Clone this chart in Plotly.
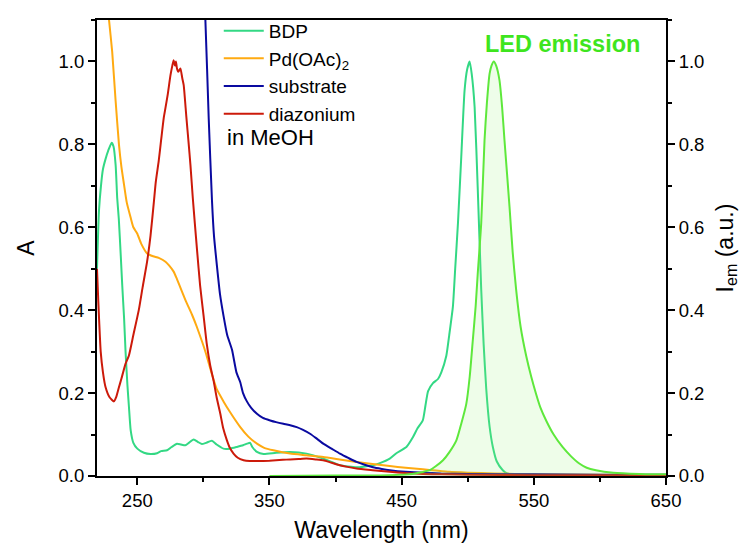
import plotly.graph_objects as go

# ---------------- data ----------------
bdp_wl = [219.5, 221, 222.5, 224, 226, 228, 230.6, 232, 233.6, 234.8, 236, 237.5, 238.6, 240, 241.1,
          242.5, 243.6, 245, 247, 250, 255, 260, 265, 268, 272.5, 276, 280, 283, 286.3, 289, 292.6,
          296, 298.9, 302, 306.4, 310, 315.2, 320, 325.3, 330, 333, 335.4, 337, 340.5, 345.5, 355,
          365.6, 378, 390.7, 403.3, 415.9, 428.4, 433.5, 441, 446, 453.6, 458.6, 462, 466, 468, 470,
          473.7, 477.5, 480, 483.8, 486, 488.8, 490.5, 492.6, 495.1, 497.6, 499.5, 501.4, 503, 505.2,
          507.6, 510.2, 512, 514, 516.5, 519, 522, 526.5, 530, 540, 560, 600, 650]
bdp_a = [0.50, 0.64, 0.70, 0.74, 0.765, 0.785, 0.804, 0.795, 0.75, 0.67, 0.62, 0.53, 0.46, 0.38, 0.30,
         0.22, 0.17, 0.11, 0.08, 0.066, 0.056, 0.053, 0.055, 0.06, 0.062, 0.07, 0.078, 0.076, 0.074, 0.08, 0.088,
         0.082, 0.077, 0.08, 0.085, 0.076, 0.066, 0.066, 0.07, 0.074, 0.078, 0.08, 0.07, 0.058, 0.053, 0.056,
         0.058, 0.054, 0.042, 0.026, 0.021, 0.026, 0.031, 0.042, 0.055, 0.07, 0.094, 0.115, 0.134, 0.17, 0.205,
         0.224, 0.234, 0.25, 0.29, 0.34, 0.41, 0.50, 0.61, 0.77, 0.93, 0.98, 1.0, 0.97, 0.89,
         0.69, 0.45, 0.32, 0.21, 0.12, 0.07, 0.035, 0.014, 0.006, 0.003, 0.002, 0.002, 0.002]

pd_wl = [219.5, 224, 228.5, 231, 233.6, 236.1, 238, 239.9, 242, 244.9, 247, 249.9, 253, 257.4, 262,
         266.2, 271.3, 274, 277.5, 280, 283.8, 287, 291.4, 295, 298.9, 302, 306.4, 310, 315.2, 320,
         327.9, 334, 340.5, 346, 353, 365.6, 378, 390.7, 403, 415.9, 428, 441, 453, 466, 476, 486,
         500, 520, 550, 600, 650]
pd_a = [1.40, 1.25, 1.103, 1.023, 0.904, 0.80, 0.745, 0.704, 0.66, 0.624, 0.60, 0.585, 0.56, 0.537, 0.53,
        0.526, 0.517, 0.508, 0.493, 0.475, 0.445, 0.42, 0.389, 0.36, 0.325, 0.295, 0.246, 0.21, 0.18, 0.155,
        0.118, 0.095, 0.078, 0.068, 0.062, 0.054, 0.05, 0.046, 0.04, 0.034, 0.029, 0.024, 0.02, 0.016, 0.013, 0.01,
        0.008, 0.006, 0.004, 0.003, 0.002]

sub_wl = [298, 301.5, 304, 306.5, 308, 310.3, 312.5, 315.3, 318, 321.6, 325, 327.9, 330, 332.9, 336,
          340.5, 345, 350.5, 355, 360.5, 365, 370.6, 375, 380.7, 385, 390.7, 397, 403.3, 410, 415.9,
          422, 428.4, 435, 441, 453, 466, 480, 500, 550, 600, 650]
sub_a = [1.30, 1.10, 0.864, 0.664, 0.58, 0.505, 0.44, 0.385, 0.34, 0.305, 0.25, 0.226, 0.20, 0.18, 0.165,
         0.15, 0.14, 0.134, 0.13, 0.126, 0.123, 0.118, 0.112, 0.102, 0.092, 0.078, 0.066, 0.054, 0.043, 0.034,
         0.027, 0.021, 0.017, 0.014, 0.01, 0.008, 0.006, 0.005, 0.004, 0.003, 0.003]

dia_wl = [219.5, 220.5, 222.3, 224, 226, 229, 232.3, 234, 236.1, 238, 241, 243.6, 247, 251.1, 254,
          257.4, 260, 262.5, 264, 266.2, 268, 270, 271.3, 273, 275.1, 276.5, 277.5, 278.5, 279.2, 280,
          281, 282.6, 284, 285.1, 287, 288.9, 290.2, 292, 293.5, 295.2, 297.5, 300.2, 302.5, 305.2,
          307.7, 310, 312.8, 315, 317.8, 320, 322.8, 326, 330.4, 335, 340.5, 350, 360, 365.6, 372,
          378, 385, 390.7, 397, 403.3, 409, 415.9, 428, 441, 453, 466, 480, 500, 550, 600, 650]
dia_a = [0.50, 0.42, 0.30, 0.25, 0.214, 0.19, 0.18, 0.19, 0.214, 0.235, 0.27, 0.29, 0.34, 0.40, 0.455,
         0.517, 0.58, 0.66, 0.71, 0.76, 0.81, 0.864, 0.888, 0.92, 0.967, 0.99, 1.003, 0.99, 1.0, 0.983,
         0.975, 0.983, 0.96, 0.943, 0.87, 0.80, 0.75, 0.67, 0.61, 0.545, 0.46, 0.385, 0.32, 0.266,
         0.23, 0.19, 0.15, 0.115, 0.086, 0.068, 0.054, 0.044, 0.038, 0.036, 0.036, 0.037, 0.039, 0.04, 0.041,
         0.042, 0.04, 0.038, 0.032, 0.026, 0.022, 0.018, 0.014, 0.01, 0.007, 0.005, 0.004, 0.003, 0.002, 0.002, 0.002]

led_wl = [350, 400, 440, 458, 465, 471.2, 476, 481.3, 486, 491.4, 495, 498.9, 501.5, 503.9, 506,
          507.6, 510.2, 512.7, 514.5, 516.5, 518, 519.7, 521.5, 524, 526, 527.8, 531.6, 534, 536.6,
          540, 544.2, 548, 551.7, 555, 559.3, 565, 571.7, 578, 584.4, 590, 597, 610, 630, 650]
led_i = [0.0, 0.001, 0.002, 0.005, 0.009, 0.014, 0.024, 0.038, 0.057, 0.086, 0.125, 0.174, 0.24, 0.33, 0.41,
         0.49, 0.61, 0.81, 0.90, 0.97, 0.99, 1.0, 0.99, 0.955, 0.89, 0.81, 0.65, 0.54, 0.45,
         0.36, 0.29, 0.24, 0.198, 0.165, 0.134, 0.10, 0.07, 0.048, 0.03, 0.02, 0.014, 0.008, 0.005, 0.004]

x_ticks = [250, 350, 450, 550, 650]
y_ticks = [0.0, 0.2, 0.4, 0.6, 0.8, 1.0]

# ---------------- figure ----------------
FONT = "Arial, Liberation Sans, sans-serif"
fig = go.Figure()

fig.add_trace(go.Scatter(x=led_wl, y=led_i, yaxis="y2", mode="lines", fill="tozeroy",
                         fillcolor="rgba(150,240,120,0.16)",
                         line=dict(color="#5ee83c", width=2, shape="spline", smoothing=0.6),
                         showlegend=False, hoverinfo="skip"))
fig.add_trace(go.Scatter(x=bdp_wl, y=bdp_a, mode="lines", name="BDP", legendgroup="a",
                         line=dict(color="#33d884", width=2, shape="spline", smoothing=0.5)))
fig.add_trace(go.Scatter(x=pd_wl, y=pd_a, mode="lines", name="Pd(OAc)<sub>2</sub>", legendgroup="b",
                         line=dict(color="#ffaa11", width=2, shape="spline", smoothing=0.5)))
fig.add_trace(go.Scatter(x=sub_wl, y=sub_a, mode="lines", name="substrate", legendgroup="c",
                         line=dict(color="#0a0aa0", width=2, shape="spline", smoothing=0.5)))
fig.add_trace(go.Scatter(x=dia_wl, y=dia_a, mode="lines", name="diazonium", legendgroup="d",
                         line=dict(color="#cc1a0a", width=2, shape="spline", smoothing=0.5)))

axis_common = dict(showline=True, linecolor="black", linewidth=2, ticks="outside",
                   ticklen=7, tickwidth=2, tickcolor="black", showgrid=False, zeroline=False,
                   tickfont=dict(family=FONT, size=18.5, color="black"))

fig.update_layout(
    width=742, height=549,
    margin=dict(l=97, r=76, t=17, b=73),
    paper_bgcolor="white", plot_bgcolor="white",
    font=dict(family=FONT, color="black"),
    xaxis=dict(range=[219.5, 650], tickvals=x_ticks, mirror=True, automargin=False,
               minor=dict(dtick=50, tick0=250, ticklen=4, tickwidth=2, ticks="outside", tickcolor="black"),
               title=dict(text="Wavelength (nm)", font=dict(family=FONT, size=23), standoff=12),
               **axis_common),
    yaxis=dict(range=[0, 1.1], tickvals=y_ticks, tickformat=".1f", automargin=False,
               minor=dict(dtick=0.1, tick0=0, ticklen=4, tickwidth=2, ticks="outside", tickcolor="black"),
               title=dict(text="A", font=dict(family=FONT, size=23), standoff=18),
               **axis_common),
    yaxis2=dict(range=[0, 1.1], tickvals=y_ticks, tickformat=".1f", overlaying="y", side="right",
                automargin=False,
                minor=dict(dtick=0.1, tick0=0, ticklen=4, tickwidth=2, ticks="outside", tickcolor="black"),
                title=dict(text="I<sub>em</sub> (a.u.)", font=dict(family=FONT, size=23), standoff=13),
                **axis_common),
    legend=dict(x=0.214, y=1.018, xanchor="left", yanchor="top", bgcolor="rgba(0,0,0,0)",
                font=dict(family=FONT, size=19, color="black"), traceorder="grouped",
                tracegroupgap=0, itemwidth=40),
    annotations=[
        dict(text="in MeOH", x=0.2246, y=0.743, xref="paper", yref="paper", xanchor="left",
             yanchor="middle", showarrow=False, font=dict(family=FONT, size=22, color="black")),
        dict(text="<b>LED emission</b>", x=0.8175, y=0.948, xref="paper", yref="paper",
             xanchor="center", yanchor="middle", showarrow=False,
             font=dict(family=FONT, size=23.5, color="#3ee51e")),
    ],
)

fig.write_html("out.html")
